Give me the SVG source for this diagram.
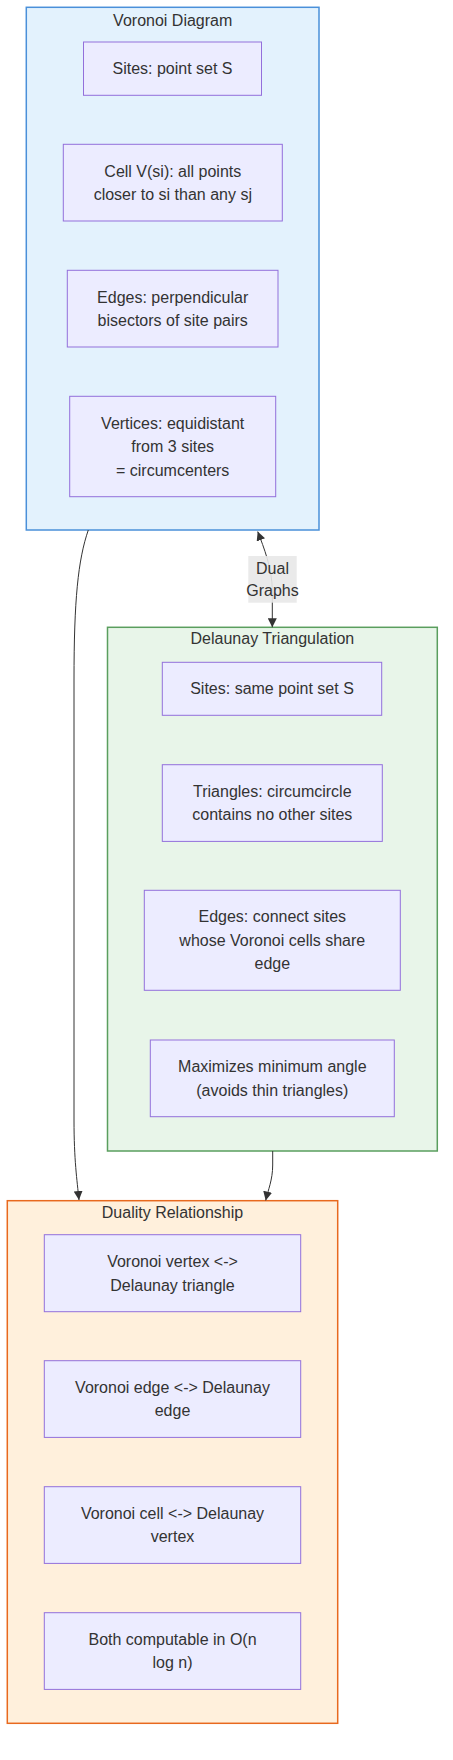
<svg xmlns="http://www.w3.org/2000/svg" width="453" height="1760" viewBox="0 0 453 1760">
<style>
text{font-family:"Liberation Sans",Arial,sans-serif;font-size:16px;fill:#333;text-anchor:middle}
.node rect{fill:#ECECFF;stroke:#9370DB;stroke-width:1}
.edge{fill:none;stroke:#333;stroke-width:1}
</style>
<defs>
<marker id="arr" viewBox="0 0 10 10" refX="10" refY="5" markerUnits="userSpaceOnUse" markerWidth="9" markerHeight="9" orient="auto-start-reverse">
<path d="M0,0 L10,5 L0,10 z" fill="#333"/>
</marker>
</defs>
<g id="cluster-voronoi">
<rect x="26.3" y="7.3" width="292.7" height="522.7" fill="#e3f2fd" stroke="#4a90d9" stroke-width="1.5"/>
<text x="172.7" y="25.5">Voronoi Diagram</text>
</g>
<g id="cluster-delaunay">
<rect x="107.5" y="627.3" width="329.8" height="523.7" fill="#e8f5e9" stroke="#5a9e5e" stroke-width="1.5"/>
<text x="272.4" y="644">Delaunay Triangulation</text>
</g>
<g id="cluster-duality">
<rect x="7.3" y="1200.7" width="330.4" height="522.6" fill="#fff0dc" stroke="#e8691e" stroke-width="1.5"/>
<text x="172.5" y="1217.5">Duality Relationship</text>
</g>
<g id="connectors">
<path class="edge" d="M88.3,530 C78,560 74,600 74,680 L74,1120 C74,1160 77,1180 79,1200" marker-end="url(#arr)"/>
<path class="edge" d="M257.7,531.5 C264,548 272,568 272.3,590 L272.3,627.3" marker-start="url(#arr)" marker-end="url(#arr)"/>
<path class="edge" d="M272.7,1151 L272.7,1165 C272.7,1180 268,1190 265.7,1200.5" marker-end="url(#arr)"/>
</g>
<g id="edge-label">
<rect x="248.3" y="556" width="48.4" height="46.7" fill="#e8e8e8" opacity="0.9"/>
<text x="272.5" y="573.5">Dual</text>
<text x="272.5" y="596">Graphs</text>
</g>
<g id="V1" class="node"><rect x="83.5" y="42" width="178" height="53.3"/><text x="172.5" y="74.2">Sites: point set S</text></g>
<g id="V2" class="node"><rect x="63.3" y="144.3" width="219" height="76.7"/><text x="172.8" y="176.5">Cell V(si): all points</text><text x="172.8" y="200">closer to si than any sj</text></g>
<g id="V3" class="node"><rect x="67.3" y="270.3" width="210.7" height="76.7"/><text x="172.7" y="302.8">Edges: perpendicular</text><text x="172.7" y="326.2">bisectors of site pairs</text></g>
<g id="V4" class="node"><rect x="69.7" y="396.3" width="206" height="100.4"/><text x="172.7" y="428.5">Vertices: equidistant</text><text x="172.7" y="452">from 3 sites</text><text x="172.7" y="475.5">= circumcenters</text></g>
<g id="D1" class="node"><rect x="162.3" y="662.3" width="219.4" height="53"/><text x="272" y="694.3">Sites: same point set S</text></g>
<g id="D2" class="node"><rect x="162.3" y="764.7" width="220" height="76.7"/><text x="272.3" y="796.8">Triangles: circumcircle</text><text x="272.3" y="820.2">contains no other sites</text></g>
<g id="D3" class="node"><rect x="144.3" y="890.3" width="256" height="100"/><text x="272.3" y="922.3">Edges: connect sites</text><text x="272.3" y="945.8">whose Voronoi cells share</text><text x="272.3" y="969.3">edge</text></g>
<g id="D4" class="node"><rect x="150.3" y="1040" width="244" height="76.7"/><text x="272.3" y="1072.1">Maximizes minimum angle</text><text x="272.3" y="1095.5">(avoids thin triangles)</text></g>
<g id="Q1" class="node"><rect x="44.3" y="1234.7" width="256.4" height="77"/><text x="172.5" y="1267">Voronoi vertex &lt;-&gt;</text><text x="172.5" y="1290.5">Delaunay triangle</text></g>
<g id="Q2" class="node"><rect x="44.3" y="1360.7" width="256.4" height="76.7"/><text x="172.5" y="1392.8">Voronoi edge &lt;-&gt; Delaunay</text><text x="172.5" y="1416.2">edge</text></g>
<g id="Q3" class="node"><rect x="44.3" y="1486.7" width="256.4" height="76.7"/><text x="172.5" y="1518.8">Voronoi cell &lt;-&gt; Delaunay</text><text x="172.5" y="1542.2">vertex</text></g>
<g id="Q4" class="node"><rect x="44.3" y="1612.7" width="256.4" height="76.7"/><text x="172.5" y="1644.8">Both computable in O(n</text><text x="172.5" y="1668.2">log n)</text></g>
</svg>
